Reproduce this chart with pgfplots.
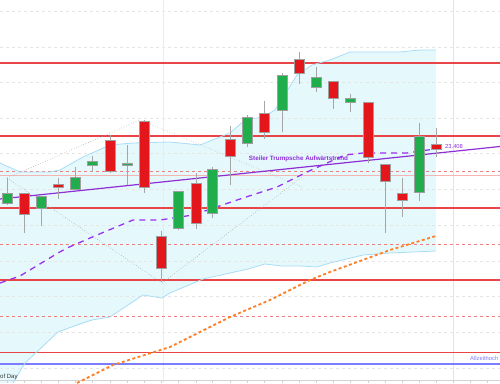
\documentclass[border=0pt]{standalone}
\usepackage{pgfplots}
\pgfplotsset{compat=1.18}
\usepackage{fontspec}
\setmainfont{Liberation Sans}
\definecolor{cred}{HTML}{E3161C}
\definecolor{cgreen}{HTML}{1FAE4B}
\definecolor{lvl}{HTML}{E84549}
\definecolor{lvllight}{HTML}{F5B5B5}
\definecolor{band}{HTML}{E5F9FD}
\definecolor{bandline}{HTML}{A9DCF5}
\definecolor{purp}{HTML}{9B30F0}
\definecolor{trend}{HTML}{8E2FD6}
\definecolor{orng}{HTML}{FF7F27}
\definecolor{ath}{HTML}{7C7CFF}
\tikzset{
  bodyR/.style={draw=gray!75, line width=0.4pt, fill=cred},
  bodyG/.style={draw=gray!75, line width=0.4pt, fill=cgreen},
  mygrid/.style={draw=gray!20, dashed, line width=0.5pt},
  lvlsolid/.style={draw=lvl, line width=1.3pt},
  lvldash/.style={draw=lvl!70, dashed, line width=0.6pt},
}
\begin{document}
\begin{tikzpicture}
\begin{axis}[scale only axis, width=500pt, height=383pt,
  xmin=0, xmax=500, ymin=0, ymax=383, axis lines=none,
  unbounded coords=jump, clip=true]
\coordinate (sw) at (rel axis cs:0,0);
\coordinate (ne) at (rel axis cs:1,1);
% Bollinger fill
\addplot[fill=band, draw=none] coordinates {
 (0,220) (20,211) (50,211) (60,213) (83,226) (110,238) (133,240) (170,241)
 (200,238) (230,250) (245,263) (263,266) (275,273) (297,308) (312,318)
 (330,323) (350,331) (400,331) (420,333) (436,333)
 (436,132) (390,130) (363,128) (330,120) (317,116) (300,117) (282,117)
 (265,119) (248,114) (230,110) (203,104) (170,90) (162,85) (143,88)
 (128,78) (110,66) (92,63) (77,58) (58,51) (25,20) (13,0) (0,0)} --cycle;
% grid lines
\addplot[mygrid] coordinates {(0,371.3) (500,371.3)};
\addplot[mygrid] coordinates {(0,336) (500,336)};
\addplot[mygrid] coordinates {(0,301) (500,301)};
\addplot[mygrid] coordinates {(0,265) (500,265)};
\addplot[mygrid] coordinates {(0,229.5) (500,229.5)};
\addplot[mygrid] coordinates {(0,194) (500,194)};
\addplot[mygrid] coordinates {(0,158) (500,158)};
\addplot[mygrid] coordinates {(0,122) (500,122)};
\addplot[mygrid] coordinates {(0,86.5) (500,86.5)};
\addplot[mygrid] coordinates {(0,51) (500,51)};
\addplot[mygrid] coordinates {(0,15) (500,15)};
\addplot[draw=gray!15, line width=0.6pt] coordinates {(163,0) (163,383)};
\addplot[draw=gray!22, line width=0.6pt] coordinates {(453,0) (453,383)};
% bottom axis line with ticks
\addplot[draw=gray!35, line width=0.6pt] coordinates {(0,3) (500,3)};
\addplot[draw=gray!35, ycomb, mark=none] coordinates {(7,3) (24,3) (41,3) (58,3) (75,3) (92,3) (110,3) (127,3) (144,3) (161,3) (178,3) (196,3) (212,3) (230,3) (247,3) (264,3) (282,3) (299,3) (316,3) (333,3) (350,3) (368,3) (385,3) (402,3) (419,3) (436,3) (453,3) (470,3) (487,3)};
% levels
\addplot[lvldash] coordinates {(0,211.3) (500,211.3)};
\addplot[lvldash] coordinates {(0,139) (500,139)};
\addplot[lvldash] coordinates {(0,66.7) (500,66.7)};
\addplot[draw=lvllight, line width=0.9pt] coordinates {(0,207.3) (500,207.3)};
\addplot[lvlsolid] coordinates {(0,320) (500,320)};
\addplot[lvlsolid] coordinates {(0,247) (500,247)};
\addplot[lvlsolid] coordinates {(0,175) (500,175)};
\addplot[lvlsolid] coordinates {(0,103) (500,103)};
\addplot[lvlsolid] coordinates {(0,30.7) (500,30.7)};
\addplot[draw=ath, line width=1.1pt] coordinates {(0,19) (500,19)};
% band lines
\addplot[draw=bandline, line width=0.8pt] coordinates {
 (0,220) (20,211) (50,211) (60,213) (83,226) (110,238) (133,240) (170,241)
 (200,238) (230,250) (245,263) (263,266) (275,273) (297,308) (312,318)
 (330,323) (350,331) (400,331) (420,333) (436,333)};
\addplot[draw=bandline, line width=0.8pt] coordinates {
 (13,0) (25,20) (58,51) (77,58) (92,63) (110,66) (128,78) (143,88) (162,85)
 (170,90) (203,104) (230,110) (248,114) (265,119) (282,117) (300,117)
 (317,116) (330,120) (363,128) (390,130) (436,132)};
% moving averages
\addplot[draw=orng, line width=1.8pt, dash pattern=on 3pt off 2.5pt] coordinates {
 (77,0) (113,18) (170,36) (230,66) (270,83) (310,103) (330,111) (390,133) (436,147)};
\addplot[draw=purp, line width=1.3pt, dash pattern=on 6pt off 5pt] coordinates {
 (0,100) (20,107) (58,130) (67,135) (97,148) (133,163) (160,163) (193,168)
 (243,185) (277,196) (307,211) (327,220) (345,228) (363,230) (387,230)
 (407,230) (420,232) (436,234)};
% zigzag
\addplot[draw=gray!70, dotted, line width=0.6pt] coordinates {(7,205) (140,263)};
\addplot[draw=gray!70, dotted, line width=0.6pt] coordinates {(7,205) (162,100)};
\addplot[draw=gray!70, dotted, line width=0.6pt] coordinates {(143,262) (302,196)};
\addplot[draw=gray!70, dotted, line width=0.6pt] coordinates {(162,100) (302,206)};
% trend line
\addplot[draw=trend, line width=1.2pt] coordinates {(0,184) (500,236.5)};
% wicks
\addplot[draw=gray!70, line width=0.8pt] coordinates {
 (7,178) (7,205) (7,nan) (24,150) (24,190) (24,nan) (41,157) (41,187) (41,nan)
 (58,184) (58,205) (58,nan) (75,194) (75,216) (75,nan) (92,211) (92,227) (92,nan)
 (110,210) (110,248) (110,nan) (127,198) (127,238) (127,nan) (144,190) (144,263) (144,nan)
 (161,101) (161,152) (161,nan) (178,153) (178,192) (178,nan) (196,154) (196,210) (196,nan)
 (212,165) (212,216) (212,nan) (230,198) (230,257) (230,nan) (247,236) (247,268) (247,nan)
 (264,244) (264,282) (264,nan) (282,251) (282,310) (282,nan) (299,299) (299,331) (299,nan)
 (316,291) (316,316) (316,nan) (333,274) (333,302) (333,nan) (350,271) (350,289) (350,nan)
 (368,220) (368,281) (368,nan) (385,150) (385,219) (385,nan) (402,166) (402,205) (402,nan)
 (419,182) (419,260) (419,nan) (436,226) (436,255)};
% bodies
\addplot[bodyG] coordinates {(2,180) (12,180) (12,190) (2,190)} --cycle;
\addplot[bodyR] coordinates {(19,169) (29,169) (29,190) (19,190)} --cycle;
\addplot[bodyG] coordinates {(36,175) (46,175) (46,187) (36,187)} --cycle;
\addplot[bodyR] coordinates {(53,196) (63,196) (63,199) (53,199)} --cycle;
\addplot[bodyG] coordinates {(70,194) (80,194) (80,206) (70,206)} --cycle;
\addplot[bodyG] coordinates {(87,218) (97,218) (97,222) (87,222)} --cycle;
\addplot[bodyR] coordinates {(105,212) (115,212) (115,243) (105,243)} --cycle;
\addplot[bodyG] coordinates {(122,218) (132,218) (132,220) (122,220)} --cycle;
\addplot[bodyR] coordinates {(139,196) (149,196) (149,262) (139,262)} --cycle;
\addplot[bodyR] coordinates {(156,115) (166,115) (166,147) (156,147)} --cycle;
\addplot[bodyG] coordinates {(173,155) (183,155) (183,192) (173,192)} --cycle;
\addplot[bodyR] coordinates {(191,160) (201,160) (201,200) (191,200)} --cycle;
\addplot[bodyG] coordinates {(207,170) (217,170) (217,214) (207,214)} --cycle;
\addplot[bodyR] coordinates {(225,227) (235,227) (235,244) (225,244)} --cycle;
\addplot[bodyG] coordinates {(242,240) (252,240) (252,266) (242,266)} --cycle;
\addplot[bodyR] coordinates {(259,251) (269,251) (269,270) (259,270)} --cycle;
\addplot[bodyG] coordinates {(277,273) (287,273) (287,308) (277,308)} --cycle;
\addplot[bodyR] coordinates {(294,310) (304,310) (304,324) (294,324)} --cycle;
\addplot[bodyG] coordinates {(311,296) (321,296) (321,306) (311,306)} --cycle;
\addplot[bodyR] coordinates {(328,285) (338,285) (338,302) (328,302)} --cycle;
\addplot[bodyG] coordinates {(345,281) (355,281) (355,285) (345,285)} --cycle;
\addplot[bodyR] coordinates {(363,226) (373,226) (373,281) (363,281)} --cycle;
\addplot[bodyR] coordinates {(380,202) (390,202) (390,219) (380,219)} --cycle;
\addplot[bodyR] coordinates {(397,183) (407,183) (407,190) (397,190)} --cycle;
\addplot[bodyG] coordinates {(414,191) (424,191) (424,247) (414,247)} --cycle;
\addplot[bodyR] coordinates {(431,234) (441,234) (441,239) (431,239)} --cycle;
% texts
\node[text=trend, font=\fontsize{6.3}{7}\selectfont\bfseries, inner sep=0pt] at (axis cs:298.5,224) {Steiler Trumpsche Aufwärtstrend};
\node[text=trend, font=\fontsize{5.8}{7}\selectfont, inner sep=0pt, anchor=west] at (axis cs:445,236) {23.408};
\node[text=ath, font=\fontsize{5.8}{7}\selectfont, inner sep=0pt, anchor=west] at (axis cs:470,25) {Allzeithoch};
\node[text=black!80, font=\fontsize{6}{7}\selectfont, inner sep=0pt, anchor=west] at (axis cs:0,6) {of Day};
\end{axis}
\pgfresetboundingbox
\useasboundingbox (sw) rectangle (ne);
\end{tikzpicture}
\end{document}
